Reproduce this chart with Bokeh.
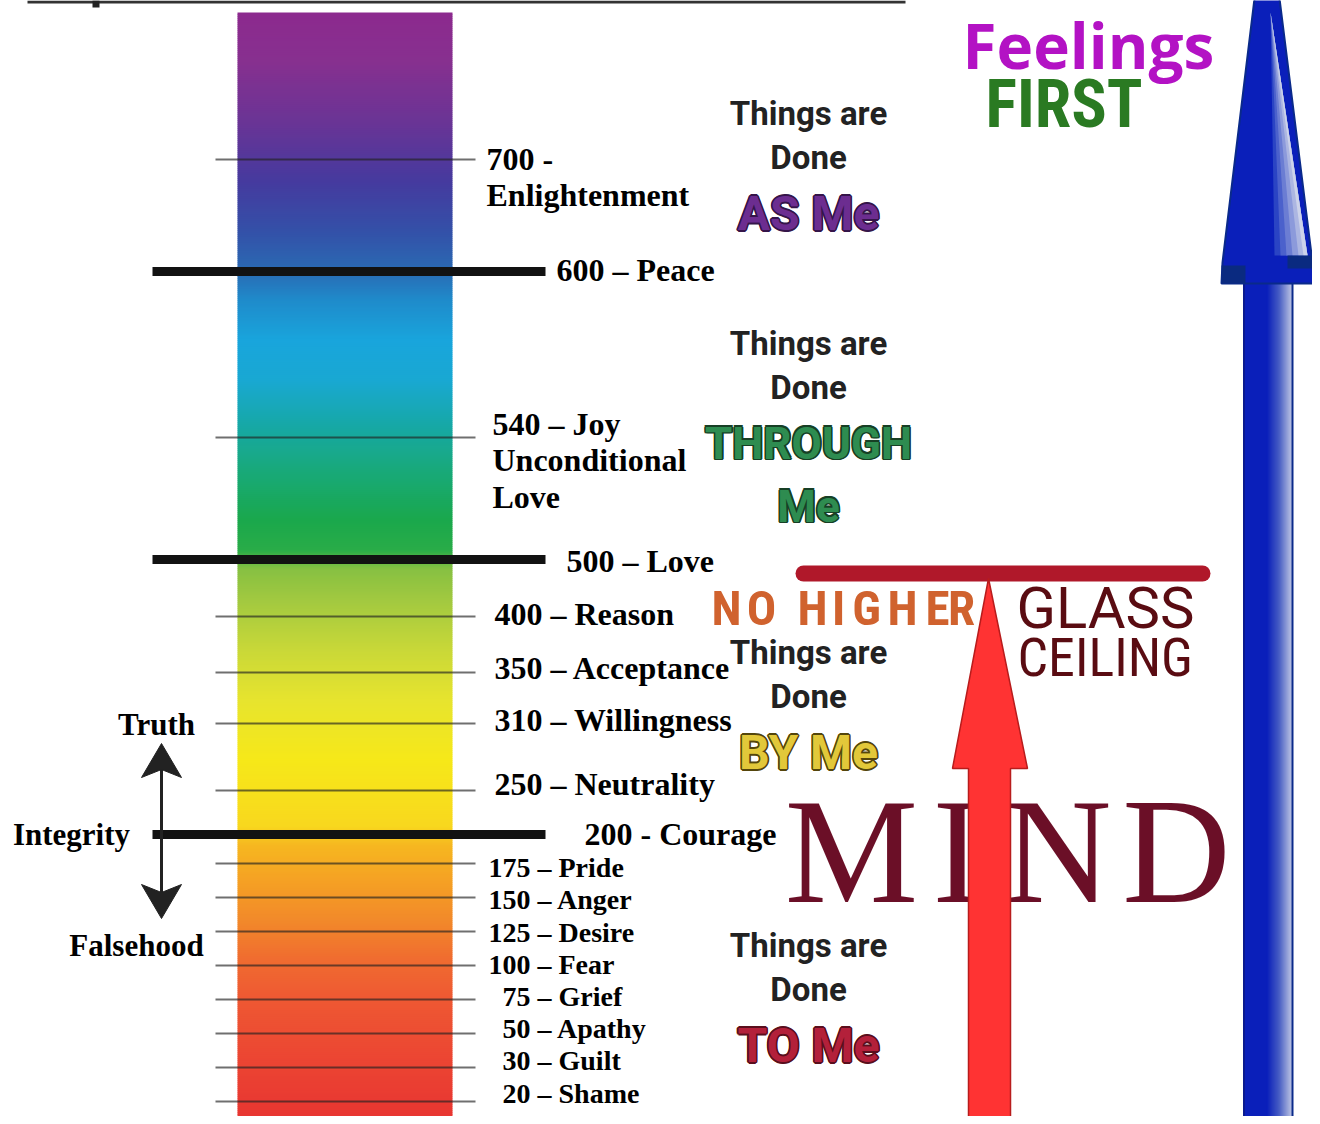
import numpy as np
from bokeh.plotting import figure
from bokeh.models import Range1d
from bokeh.core.properties import value
from bokeh.embed import file_html
from bokeh.resources import INLINE

# ---------------- data ----------------
levels = [700, 600, 540, 500, 400, 350, 310, 250, 200, 175, 150, 125, 100, 75, 50, 30, 20]
level_labels = [
    ["700 -", "Enlightenment"], ["600 \u2013 Peace"], ["540 \u2013 Joy", "Unconditional", "Love"],
    ["500 \u2013 Love"], ["400 \u2013 Reason"], ["350 \u2013 Acceptance"], ["310 \u2013 Willingness"],
    ["250 \u2013 Neutrality"], ["200 - Courage"], ["175 \u2013 Pride"], ["150 \u2013 Anger"],
    ["125 \u2013 Desire"], ["100 \u2013 Fear"], ["75 \u2013 Grief"], ["50 \u2013 Apathy"],
    ["30 \u2013 Guilt"], ["20 \u2013 Shame"],
]
major_levels = [600, 500, 200]
side_labels = ["Truth", "Integrity", "Falsehood"]
block_head = ["Things are", "Done"]
block_words = [["AS Me"], ["THROUGH", "Me"], ["BY Me"], ["TO Me"]]
block_fill = ["#6c2d90", "#2e8c50", "#e2c83a", "#b3203a"]
block_edge = ["#35154a", "#173f25", "#54460c", "#5a0f1d"]
ceiling_words = ["GLASS", "CEILING"]
no_higher = list("NOHIGHER")
mind_letters = list("MIND")
logo_words = ["Feelings", "FIRST"]

# ---------------- layout ----------------
scale_levels = [20, 30, 50, 75, 100, 125, 150, 175, 200, 250, 310, 350, 400, 500, 540, 600, 700]
scale_rows = [1101, 1067, 1033, 999, 965, 931, 897, 863, 834, 790, 723, 672, 616, 559, 437, 271, 159]
def row_of(lv):
    return float(np.interp(lv, scale_levels, scale_rows))

label_x = [486, 556, 492, 566, 494, 494, 494, 494, 584, 488, 488, 488, 488, 502, 502, 502, 502]
label_dy = [-1, -2, -14, 1, -3, -5, -4, -7, -1, 4, 2, 1, -1, -3, -5, -7, -8]

bar_left, bar_right, bar_top, bar_bottom = 237, 452, 12, 1118
grad_rows = [12, 60, 120, 180, 230, 270, 300, 340, 380, 420, 470, 520, 550, 568, 600, 650, 700, 760, 825, 845, 880, 920, 960, 1000, 1050, 1118]
grad_cols = ["#8c2a8e", "#87308f", "#6b3495", "#463a9e", "#3450a8", "#2a6ab3", "#1f8bcb", "#19a5dc",
             "#19a8d2", "#17a8ab", "#18a97a", "#1aa84c", "#2aac48", "#86c042", "#a2c940", "#c9d838",
             "#e7e42e", "#f6e819", "#f8d81e", "#f6b720", "#f5a124", "#f2892a", "#f06b30", "#ee5833",
             "#ec4833", "#e83531"]

FONT_SERIF = value("Liberation Serif")
FONT_SANS = value("Roboto")
FONT_COND = value("'Roboto Condensed', 'Noto Sans Condensed', 'DejaVu Sans Condensed', 'Liberation Sans Narrow', Roboto")

p = figure(width=1312, height=1116, x_range=Range1d(0, 1312), y_range=Range1d(1116, 0),
           output_backend="svg", toolbar_location=None, min_border=0,
           x_axis_type=None, y_axis_type=None)
p.grid.visible = False
p.outline_line_color = None
p.background_fill_color = "white"
p.border_fill_color = "white"

def hex2rgb(h):
    return np.array([int(h[i:i + 2], 16) for i in (1, 3, 5)], dtype=float)

def interp_colors(pos, stops, cols):
    rgb = np.array([hex2rgb(c) for c in cols])
    out = []
    for v in pos:
        c = [np.interp(v, stops, rgb[:, k]) for k in range(3)]
        out.append("#%02x%02x%02x" % tuple(int(round(x)) for x in c))
    return out

# ---- top rule ----
p.segment(x0=[27], x1=[905], y0=[1.5], y1=[1.5], line_width=3, line_color="#333333")
p.quad(left=[92], right=[99], top=[0], bottom=[7], color="#222222", line_color=None)

# ---- gradient bar ----
rows = np.arange(bar_top, bar_bottom, 2)
p.quad(left=bar_left, right=bar_right, top=rows, bottom=rows + 2.6,
       color=interp_colors(rows + 1, grad_rows, grad_cols), line_color=None)

# ---- ticks ----
minor = [lv for lv in levels if lv not in major_levels]
mr = [row_of(lv) for lv in minor]
p.segment(x0=215, x1=475, y0=mr, y1=mr, line_width=2.2, line_color="#222222", line_alpha=0.65)
Mr = [row_of(lv) for lv in major_levels]
p.segment(x0=152, x1=545, y0=Mr, y1=Mr, line_width=9, line_color="#121212")

# ---- level labels ----
tx, ty, tt, ts = [], [], [], []
for lv, lines, lx, dy in zip(levels, level_labels, label_x, label_dy):
    for i, s in enumerate(lines):
        tx.append(lx); ty.append(row_of(lv) + dy + i * 36.5); tt.append(s)
        ts.append("32px" if lv >= 200 else "28px")
p.text(x=tx, y=ty, text=tt, text_font=FONT_SERIF, text_font_style="bold",
       text_font_size=ts, text_baseline="middle", text_align="left", text_color="black")

# ---- truth / integrity / falsehood ----
p.text(x=[156, 71, 136], y=[724, 834, 945], text=side_labels, text_font=FONT_SERIF,
       text_font_style="bold", text_font_size="31px", text_baseline="middle",
       text_align="center", text_color="black")
p.segment(x0=161, x1=161, y0=768, y1=893, line_width=3, line_color="#222222")
p.patches(xs=[[161, 181, 161, 141], [161, 181, 161, 141]],
          ys=[[743, 777, 769, 777], [918, 884, 892, 884]],
          fill_color="#222222", line_color="#222222", line_width=1)

# ---- "Things are Done ..." blocks ----
blk_rows = [113, 343, 652, 945]
for r0, words, fc, ec in zip(blk_rows, block_words, block_fill, block_edge):
    p.text(x=[808, 808], y=[r0, r0 + 44], text=block_head, text_font=FONT_SANS,
           text_font_style="bold", text_font_size="33px", text_baseline="middle",
           text_align="center", text_color="#222222")
    wy = [r0 + 100 + i * 63 for i in range(len(words))]
    size = "44px" if words[0] == "THROUGH" else "48px"
    for dx, dy in [(-1.6, 0), (1.6, 0), (0, -1.6), (0, 1.6), (-1.2, -1.2), (1.2, 1.2), (-1.2, 1.2), (1.2, -1.2)]:
        p.text(x=[808 + dx] * len(words), y=[w + dy for w in wy], text=words, text_font=FONT_SANS,
               text_font_style="bold", text_font_size=size, text_baseline="middle",
               text_align="center", text_color=ec)
    p.text(x=[808] * len(words), y=wy, text=words, text_font=FONT_SANS,
           text_font_style="bold", text_font_size=size, text_baseline="middle",
           text_align="center", text_color=fc)

# ---- NO HIGHER ----
nh_x = [726, 761, 812, 838, 866, 902, 937, 961]
p.text(x=nh_x, y=[608] * len(no_higher), text=no_higher, text_font=FONT_COND,
       text_font_style="bold", text_font_size="49px", text_baseline="middle",
       text_align="center", text_color="#d0622e")

# ---- glass ceiling ----
p.line(x=[803, 1202], y=[573, 573], line_width=16, line_cap="round", line_color="#b0182a")
p.text(x=[1016], y=[607], text=[ceiling_words[0]], text_font=FONT_SANS,
       text_font_size="58px", text_baseline="middle", text_align="left", text_color="#5a0c12")
p.text(x=[1017], y=[657], text=[ceiling_words[1]], text_font=FONT_COND,
       text_font_size="54px", text_baseline="middle", text_align="left", text_color="#5a0c12")

# ---- MIND ----
p.text(x=[851, 957, 1057, 1176], y=[850] * 4, text=mind_letters, text_font=FONT_SERIF,
       text_font_size="150px", text_baseline="middle", text_align="center", text_color="#6b0f27")

# ---- red arrow ----
p.patch(x=[988, 1027, 1010, 1010, 968, 968, 952], y=[578, 768, 768, 1124, 1124, 768, 768],
        fill_color="#ff3333", line_color="#b81c1c", line_width=1.5)

# ---- blue arrow ----
p.quad(left=[1243], right=[1292], top=[283], bottom=[1124], color="#0a1fba", line_color=None)
sx = np.arange(1266, 1292, 1.0)
shaft_cols = interp_colors(sx, [1266, 1278, 1291], ["#0a1fba", "#4a60c4", "#c8cfe6"])
p.quad(left=sx, right=sx + 1.4, top=283, bottom=1124, color=shaft_cols, line_color=None)
p.segment(x0=[1243.5], x1=[1243.5], y0=[283], y1=[1124], line_width=2, line_color="#0a1a90")
p.segment(x0=[1292], x1=[1292], y0=[283], y1=[1124], line_width=2, line_color="#0a2a8a")
p.patch(x=[1254, 1279, 1312, 1313, 1221, 1222], y=[-2, -2, 262, 283, 283, 262],
        fill_color="#0a1fba", line_color="#0a2a8a", line_width=2)
hl_x = [1274, 1280, 1286, 1292, 1298, 1303]
hl_c = interp_colors(range(len(hl_x)), [0, 5], ["#2a44c4", "#cdd3ea"])
p.patches(xs=[[1270, xk, 1307] for xk in hl_x], ys=[[12, 255, 255]] * len(hl_x),
          fill_color=hl_c, line_color=None)
p.quad(left=[1221, 1287], right=[1245, 1312], top=[265, 255], bottom=[283, 268],
       color="#0a2a80", line_color=None)

# ---- logo ----
p.text(x=[962], y=[44], text=[logo_words[0]], text_font=value("Open Sans"), text_font_style="bold",
       text_font_size="62px", text_baseline="middle", text_align="left", text_color="#b312c4")
p.text(x=[985], y=[104], text=[logo_words[1]], text_font=FONT_COND, text_font_style="bold",
       text_font_size="66px", text_baseline="middle", text_align="left", text_color="#2a7a22")

open("out.html", "w").write(file_html(p, INLINE))
